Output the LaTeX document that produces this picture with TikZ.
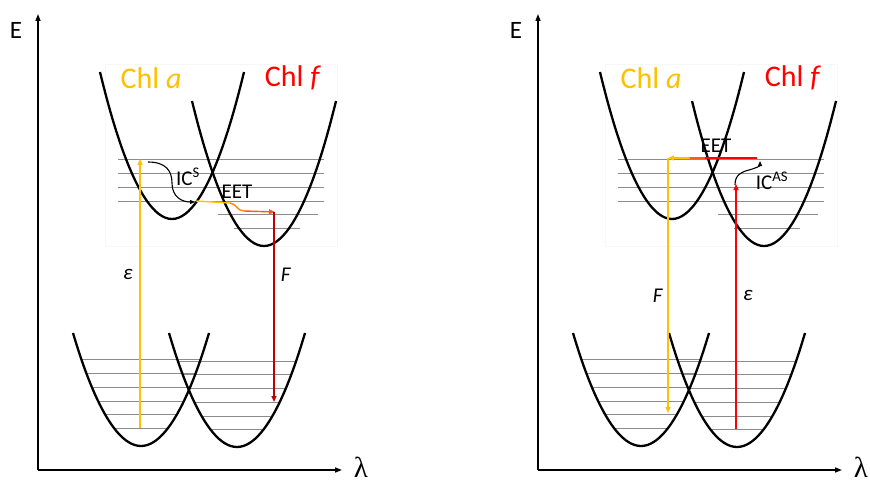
\documentclass[tikz,border=0pt]{standalone}
\usepackage{fontspec}
\setmainfont{Carlito}
\newfontfamily\lamfont{Liberation Serif}
\usetikzlibrary{arrows.meta}
\definecolor{amber}{HTML}{FFC000}
\definecolor{chlred}{HTML}{FF0000}
\definecolor{darkred}{HTML}{C00000}
\definecolor{eetor}{HTML}{FF5A1A}
\begin{document}
\begin{tikzpicture}[x=1pt,y=1pt,
  axis/.style={line width=1.3pt,-{Triangle[length=7pt,width=5pt]}},
  well/.style={line width=2.3pt},
  level/.style={gray!90,line width=0.9pt},
  trans/.style={line width=1.4pt,-{Triangle[length=6pt,width=5pt]}},
  trline/.style={line width=1.4pt},
  curl/.style={line width=1.1pt,-{Triangle[length=5pt,width=4pt]}},
  chl/.style={font=\fontsize{30}{34}\selectfont,inner sep=0pt},
  lbl/.style={font=\fontsize{21}{24}\selectfont,inner sep=0pt},
  axlbl/.style={font=\fontsize{25}{28}\selectfont,inner sep=0pt},
  lamlbl/.style={font=\lamfont\fontsize{29}{31}\selectfont,inner sep=0pt,anchor=base}]
\useasboundingbox (0,0) rectangle (870,483);
\foreach \ox/\p in {0/L,500/R}{
\begin{scope}[xshift=\ox]
  % faint image frame
  \draw[black!3,line width=1pt] (105,418) rectangle (337,237);
  % upper vibrational levels
  \foreach \y in {324,310,296,282} \draw[level] (118,\y) -- (324,\y);
  \draw[level] (218,269) -- (318,269);
  \draw[level] (234,255) -- (300,255);
  % lower vibrational levels
  \begin{scope}
    \clip (73,150) parabola bend (141,37) (209,150) -- cycle;
    \foreach \y in {124,110,96,82,69,55} \draw[level] (60,\y) -- (320,\y);
  \end{scope}
  \begin{scope}
    \clip (169,150) parabola bend (237,36) (305,150) -- cycle;
    \foreach \y in {122,109,95,81,67,54} \draw[level] (150,\y) -- (330,\y);
  \end{scope}
  % potential wells
  \draw[well] (100,411) parabola bend (172,264) (244,411);
  \draw[well] (192,382) parabola bend (264,237) (336,382);
  \draw[well] (73,150) parabola bend (141,37) (209,150);
  \draw[well] (169,150) parabola bend (237,36) (305,150);
  % axes
  \coordinate (o\p) at (38,13);
  \coordinate (yt\p) at (38,469);
  \coordinate (xe\p) at (342,13);
  \draw[axis] (o\p) -- (yt\p);
  \draw[axis] (o\p) -- (xe\p);
  \node[axlbl] (E\p) at (16,453) {E};
  \node[lamlbl] (lam\p) at (361,6) {λ};
  \node[chl,text=amber] (chla\p) at (151,405) {Chl \textit{a}};
  \node[chl,text=chlred] (chlf\p) at (293,405) {Chl \textit{f}};
\end{scope}}
% ---------- left panel transitions ----------
\coordinate (epsLb) at (140,55);
\coordinate (epsLt) at (140,324);
\draw[trans,amber] (epsLb) -- (epsLt);
\coordinate (icLs) at (148,321);
\coordinate (icLe) at (195,281);
\draw[curl] (icLs) .. controls (166,321) and (172,312) .. (172,300)
  .. controls (172,286) and (182,281) .. (icLe);
\coordinate (eetL1) at (196,282);
\coordinate (eetL2) at (230,280);
\coordinate (eetL3) at (244,272);
\coordinate (eetL4) at (275,271);
\draw[trline,amber] (eetL1) -- (eetL2);
\draw[trline,amber!45!eetor] (eetL2) .. controls (237,279) and (237,272) .. (eetL3);
\draw[trans,eetor] (eetL3) -- (eetL4);
\coordinate (FLt) at (274,271);
\coordinate (FLb) at (274,81);
\draw[trans,darkred] (FLt) -- (FLb);
\node[lbl] (icsL) at (188,306) {IC\textsuperscript{S}};
\node[lbl] (eetL) at (237,291) {EET};
\node[lbl] (epsL) at (128,209) {\textit{ε}};
\node[lbl] (FL) at (286,208) {\textit{F}};
% ---------- right panel transitions ----------
\coordinate (epsRb) at (736,54);
\coordinate (epsRt) at (736,299);
\draw[trans,chlred] (epsRb) -- (epsRt);
\coordinate (icRs) at (735,298);
\coordinate (icRe) at (760,322);
\draw[curl] (icRs) .. controls (735,308) and (741,311) .. (749,313)
  .. controls (756,315) and (760,317) .. (icRe);
\coordinate (eetR1) at (757,325);
\coordinate (eetR2) at (705,325);
\coordinate (eetR3) at (690,325);
\coordinate (eetR4) at (668,325);
\draw[trline,chlred] (eetR1) -- (eetR2);
\draw[trline,eetor] (eetR2) -- (eetR3);
\draw[trans,amber] (eetR3) -- (eetR4);
\coordinate (FRt) at (668,325);
\coordinate (FRb) at (668,70);
\draw[trans,amber] (FRt) -- (FRb);
\node[lbl] (eetR) at (716,337) {EET};
\node[lbl] (icasR) at (772,302) {IC\textsuperscript{AS}};
\node[lbl] (FR) at (658,187) {\textit{F}};
\node[lbl] (epsR) at (748,188) {\textit{ε}};
\end{tikzpicture}
\end{document}
